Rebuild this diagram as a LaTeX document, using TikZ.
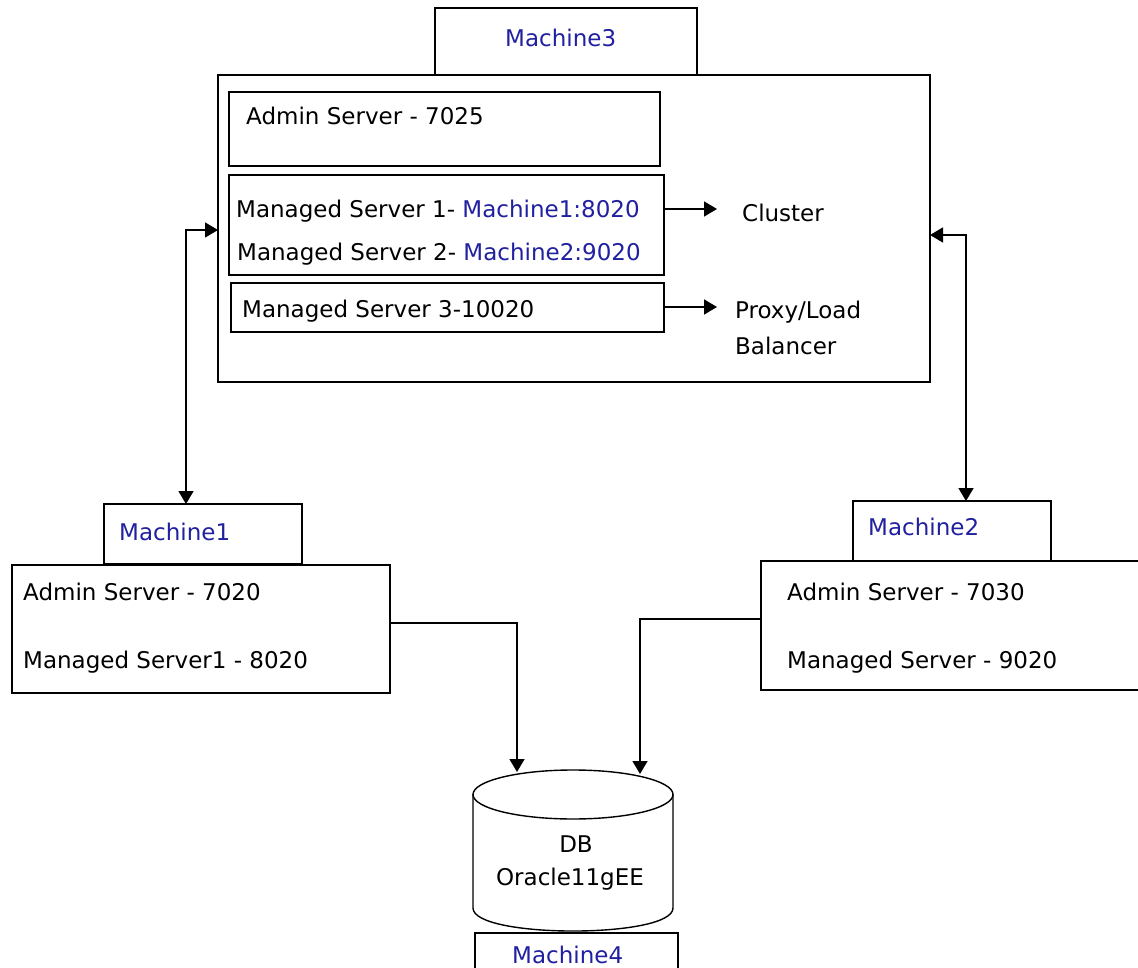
\documentclass[tikz,border=0pt]{standalone}
\usepackage{fontspec}
\setmainfont{DejaVu Sans}
\usetikzlibrary{arrows.meta,calc}
\definecolor{machblue}{RGB}{32,32,160}
\tikzset{
  box/.style={draw=black, line width=1.7pt, rectangle, inner sep=0pt, outer sep=0pt, anchor=north west},
  txt/.style={inner sep=0pt, anchor=base west, font=\fontsize{23pt}{28pt}\selectfont},
  mname/.style={txt, text=machblue},
  tip/.tip={Triangle[length=13pt,width=15pt]},
  link/.style={line width=1.5pt, -tip},
  twoway/.style={line width=1.5pt, tip-tip},
  dbline/.style={line width=1.4pt}
}
\begin{document}
\begin{tikzpicture}[x=1pt,y=-1pt]
\path[use as bounding box, clip] (0,0) rectangle (1138,968);
\fill[white] (0,0) rectangle (1138,968);

% Machine3 with its three server groups
\node[box, minimum width=262pt, minimum height=67pt] (m3label) at (435,8) {};
\node[mname] (m3name) at (505,47) {Machine3};
\node[box, minimum width=712pt, minimum height=307pt] (m3main) at (218,75) {};
\node[box, minimum width=431pt, minimum height=74pt] (adm3) at (229,92) {};
\node[txt] (adm3txt) at (246,125) {Admin Server - 7025};
\node[box, minimum width=435pt, minimum height=100pt] (cluster) at (229,175) {};
\node[txt] (ms1) at (236,218) {Managed Server 1- \textcolor{machblue}{Machine1:8020}};
\node[txt] (ms2) at (237,261) {Managed Server 2- \textcolor{machblue}{Machine2:9020}};
\node[box, minimum width=433pt, minimum height=49pt] (ms3box) at (231,283) {};
\node[txt] (ms3) at (242,318) {Managed Server 3-10020};

\node[txt] (cltxt) at (742,222) {Cluster};
\node[txt] (proxy) at (735,319) {Proxy/Load};
\node[txt] (balancer) at (735,354) {Balancer};

\draw[link, shorten >=25pt] ([yshift=16pt]cluster.east) -- ([yshift=16pt]cluster.east -| cltxt.west);
\draw[link, shorten >=18pt] ([yshift=0.5pt]ms3box.east) -- ([yshift=0.5pt]ms3box.east -| proxy.west);

% Machine1
\node[box, minimum width=198pt, minimum height=60pt] (m1label) at (104,504) {};
\node[mname] (m1name) at (119,540) {Machine1};
\node[box, minimum width=378pt, minimum height=128pt] (m1main) at (12,565) {};
\node[txt] at (23,600) {Admin Server - 7020};
\node[txt] at (23,668) {Managed Server1 - 8020};

% Machine2
\node[box, minimum width=198pt, minimum height=60pt] (m2label) at (853,501) {};
\node[mname] (m2name) at (868,535) {Machine2};
\node[box, minimum width=400pt, minimum height=129pt] (m2main) at (761,561) {};
\node[txt] at (787,600) {Admin Server - 7030};
\node[txt] at (787,668) {Managed Server - 9020};

% Database cylinder on Machine4
\node[box, minimum width=203pt, minimum height=60pt] (m4label) at (475,933) {};
\node[mname] (m4name) at (512,963) {Machine4};
\draw[dbline, fill=white] (473,794) -- (473,908) .. controls (473,938.7) and (673,938.7) .. (673,908) -- (673,794);
\draw[dbline, fill=white] (573,794.5) ellipse [x radius=100, y radius=24.5];
\node[txt, anchor=base] (dbname) at (576,852) {DB};
\node[txt, anchor=base] (dbkind) at (570,885) {Oracle11gEE};
\coordinate (dbl) at (517,772);
\coordinate (dbr) at (640,774);

% Connectors
\draw[twoway] ([yshift=-1.5pt]m3main.west) -| ([xshift=-17pt]m1label.north);
\draw[twoway] ([yshift=-6.5pt]m3main.east) -| ([xshift=14pt]m2label.north);
\draw[link] ([yshift=6pt]m1main.east) -| (dbl);
\draw[link] ([yshift=6.5pt]m2main.west) -| (dbr);
\end{tikzpicture}
\end{document}
